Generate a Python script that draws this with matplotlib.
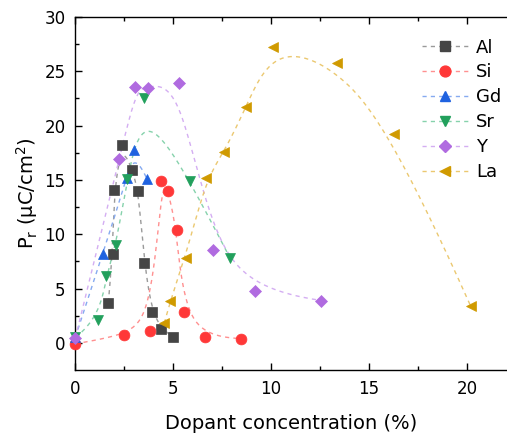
import numpy as np
import matplotlib.pyplot as plt
from matplotlib.lines import Line2D

# Pr vs dopant concentration for doped HfO2 films
al_x = [1.69, 1.91, 1.96, 2.37, 2.92, 3.22, 3.53, 3.90, 4.38, 4.98]
al_y = [3.71, 8.19, 14.1, 18.24, 15.9, 14.0, 7.39, 2.82, 1.26, 0.58]

si_x = [0.0, 2.50, 3.84, 4.38, 4.76, 5.17, 5.54, 6.60, 8.47]
si_y = [-0.1, 0.74, 1.13, 14.9, 14.0, 10.4, 2.88, 0.50, 0.40]

gd_x = [0.0, 1.40, 2.66, 2.98, 3.67]
gd_y = [0.5, 8.19, 15.2, 17.75, 15.06]

sr_x = [0.0, 1.18, 1.57, 2.08, 2.66, 3.53, 5.87, 7.91]
sr_y = [0.5, 2.12, 6.16, 9.0, 15.1, 22.5, 14.9, 7.79]

y_x = [0.0, 2.25, 3.07, 3.70, 5.32, 7.02, 9.16, 12.57]
y_y = [0.43, 16.9, 23.6, 23.5, 23.95, 8.56, 4.81, 3.9]

la_x = [4.55, 4.84, 5.63, 6.68, 7.62, 8.73, 10.09, 13.37, 16.27, 20.19]
la_y = [1.81, 3.86, 7.79, 15.15, 17.6, 21.74, 27.26, 25.73, 19.2, 3.4]

series = [
    ("Al", al_x, al_y, "s", 7.0, "#454545", "#9a9a9a"),
    ("Si", si_x, si_y, "o", 7.8, "#ff3838", "#ff9090"),
    ("Gd", gd_x, gd_y, "^", 7.6, "#1f62e0", "#86aaf0"),
    ("Sr", sr_x, sr_y, "v", 7.6, "#22a05c", "#86d2ac"),
    ("Y", y_x, y_y, "D", 6.6, "#b06be0", "#d4aef2"),
    ("La", la_x, la_y, "<", 7.6, "#d09a00", "#ebc870"),
]


def bspline(xs, ys, num=400, k=3):
    # clamped uniform B-spline using the data as control points
    pts = np.column_stack([xs, ys])
    n = len(pts)
    k = min(k, n - 1)
    t = np.concatenate([np.zeros(k), np.linspace(0, 1, n - k + 1), np.ones(k)])
    u = np.linspace(0, 1 - 1e-9, num)

    def basis(i, d):
        if d == 0:
            return ((t[i] <= u) & (u < t[i + 1])).astype(float)
        out = np.zeros_like(u)
        if t[i + d] > t[i]:
            out += (u - t[i]) / (t[i + d] - t[i]) * basis(i, d - 1)
        if t[i + d + 1] > t[i + 1]:
            out += (t[i + d + 1] - u) / (t[i + d + 1] - t[i + 1]) * basis(i + 1, d - 1)
        return out

    B = np.array([basis(i, k) for i in range(n)])
    curve = B.T @ pts
    return curve[:, 0], curve[:, 1]


plt.rcParams['font.family'] = ['DejaVu Sans']
fig = plt.figure(figsize=(5.07, 4.37), dpi=100)
ax = fig.add_axes([0.1485, 0.1533, 0.8515, 0.8077])

handles = []
for name, xs, ys, mk, ms, col, lcol in series:
    cx, cy = bspline(xs, ys)
    ax.plot(cx, cy, color=lcol, lw=1.0, dashes=(3, 3), zorder=2)
    ax.plot(xs, ys, linestyle="none", marker=mk, ms=ms, color=col,
            mec=col, mew=0.5, clip_on=False, zorder=3)
    handles.append(Line2D([], [], color=lcol, lw=1.0, dashes=(3, 3),
                          marker=mk, ms=ms, mfc=col, mec=col, label=name))

ax.set_xlim(0, 22.05)
ax.set_ylim(-2.5, 30)
ax.set_xticks([0, 5, 10, 15, 20])
ax.set_xticks([2.5, 7.5, 12.5, 17.5], minor=True)
ax.set_yticks([0, 5, 10, 15, 20, 25, 30])
ax.set_yticks([2.5, 7.5, 12.5, 17.5, 22.5, 27.5], minor=True)
ax.tick_params(which="both", direction="in", top=True, right=False,
               labelsize=12, width=1, pad=7)
ax.tick_params(which="major", length=5)
ax.tick_params(which="minor", length=3)
ax.spines["right"].set_visible(False)
for s in ("left", "bottom", "top"):
    ax.spines[s].set_linewidth(1)

ax.set_xlabel("Dopant concentration (%)", fontsize=14, labelpad=12)
ax.set_ylabel(r"P$_\mathregular{r}$ ($\mathregular{\mu}$C/cm$^\mathregular{2}$)",
              fontsize=14, labelpad=3)

ax.legend(handles=handles, loc="upper left", bbox_to_anchor=(0.765, 0.985),
          frameon=False, fontsize=13, handlelength=2.6, handletextpad=0.4,
          labelspacing=0.38, numpoints=1)

plt.savefig("out.png", dpi=100)
